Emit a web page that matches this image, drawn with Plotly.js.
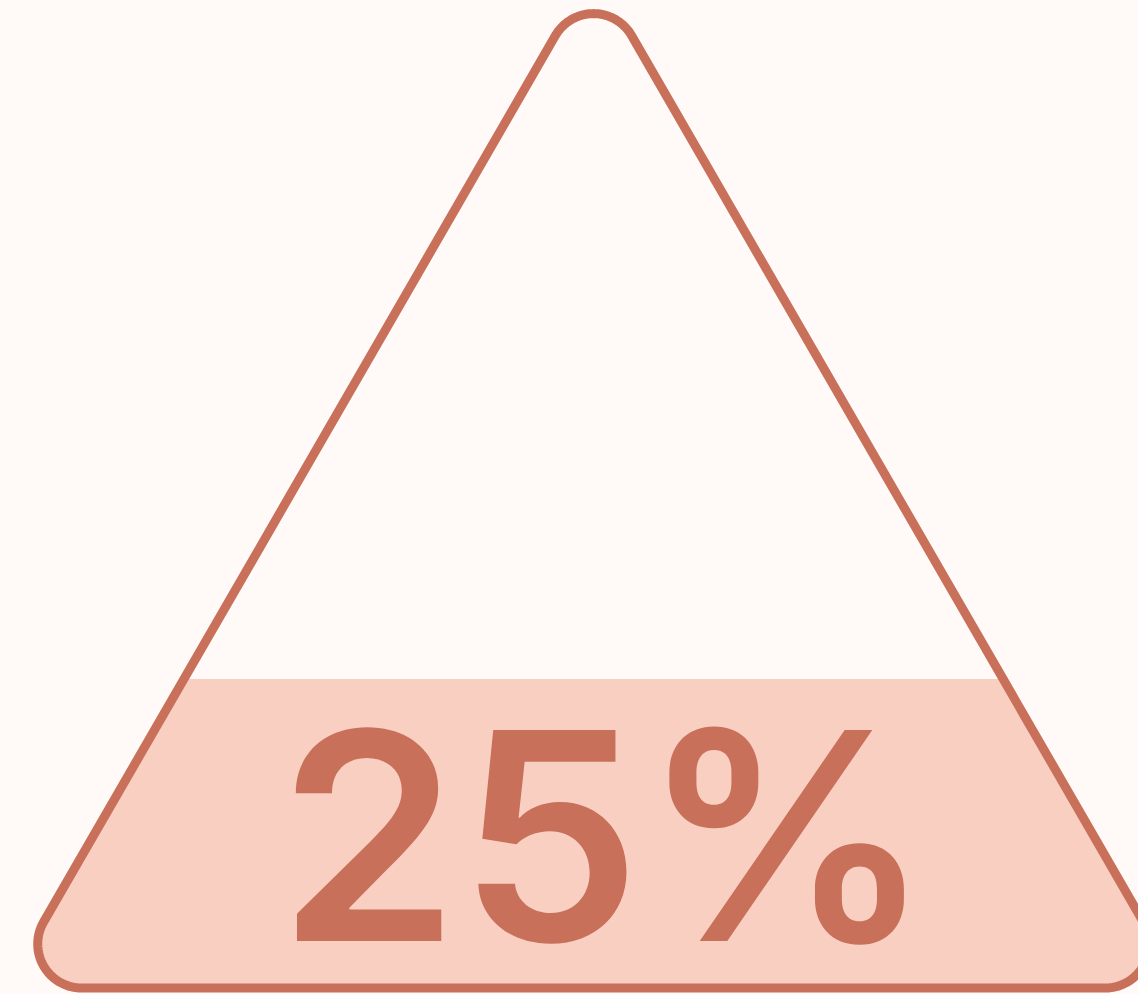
<!DOCTYPE html>
<html>
<head>
<meta charset="utf-8">
<script src="https://cdn.plot.ly/plotly-3.0.1.min.js"></script>
<style>
  html, body { margin: 0; padding: 0; background: #FFFAF8; }
  #chart { width: 1138px; height: 994px; }
  #chart text { font-optical-sizing: none; font-variation-settings: "opsz" 14; }
</style>
</head>
<body>
<div id="chart"></div>
<script>
// ---- data ----
const valueLabels = ["25%"];
const values = [25];
// level of the filled band, in chart units (row from top of chart)
const fillLevel = [679];

// ---- geometry of the rounded triangle (chart units, y grows downwards) ----
const apex = [593.5, -30.4];
const baseY = 988;
const halfSlope = Math.tan(Math.PI / 6);
const baseLeft = [apex[0] - halfSlope * (baseY - apex[1]), baseY];
const baseRight = [apex[0] + halfSlope * (baseY - apex[1]), baseY];
const cornerRadius = 44;

function roundedPolygon(verts, r, steps) {
  const pts = [];
  const n = verts.length;
  for (let i = 0; i < n; i++) {
    const V = verts[i], P = verts[(i - 1 + n) % n], N = verts[(i + 1) % n];
    let u1 = [P[0] - V[0], P[1] - V[1]], u2 = [N[0] - V[0], N[1] - V[1]];
    const l1 = Math.hypot(u1[0], u1[1]), l2 = Math.hypot(u2[0], u2[1]);
    u1 = [u1[0] / l1, u1[1] / l1]; u2 = [u2[0] / l2, u2[1] / l2];
    const ang = Math.acos(u1[0] * u2[0] + u1[1] * u2[1]);
    const th = ang / 2;
    let b = [u1[0] + u2[0], u1[1] + u2[1]];
    const lb = Math.hypot(b[0], b[1]); b = [b[0] / lb, b[1] / lb];
    const dC = r / Math.sin(th);
    const C = [V[0] + b[0] * dC, V[1] + b[1] * dC];
    const t = r / Math.tan(th);
    const T1 = [V[0] + u1[0] * t, V[1] + u1[1] * t];
    const T2 = [V[0] + u2[0] * t, V[1] + u2[1] * t];
    let a1 = Math.atan2(T1[1] - C[1], T1[0] - C[0]);
    let a2 = Math.atan2(T2[1] - C[1], T2[0] - C[0]);
    let d = a2 - a1;
    while (d > Math.PI) d -= 2 * Math.PI;
    while (d < -Math.PI) d += 2 * Math.PI;
    for (let k = 0; k <= steps; k++) {
      const a = a1 + d * k / steps;
      pts.push([C[0] + r * Math.cos(a), C[1] + r * Math.sin(a)]);
    }
  }
  return pts;
}

function clipBelow(pts, level) {
  const out = [];
  const n = pts.length;
  const inside = p => p[1] >= level;
  for (let i = 0; i < n; i++) {
    const A = pts[i], B = pts[(i + 1) % n];
    const ia = inside(A), ib = inside(B);
    if (ia) out.push(A);
    if (ia !== ib) {
      const t = (level - A[1]) / (B[1] - A[1]);
      out.push([A[0] + t * (B[0] - A[0]), level]);
    }
  }
  return out;
}

const outline = roundedPolygon([apex, baseRight, baseLeft], cornerRadius, 60);
const outlineClosed = outline.concat([outline[0], outline[1]]);
const band = clipBelow(outline, fillLevel[0]);
const bandClosed = band.concat([band[0]]);

const strokeColor = '#C8705A';
const fillColor = '#F9CFC2';

const traces = [
  {
    type: 'scatter', mode: 'lines',
    x: bandClosed.map(p => p[0]), y: bandClosed.map(p => p[1]),
    fill: 'toself', fillcolor: fillColor,
    line: { width: 0, color: fillColor, simplify: false },
    hoverinfo: 'skip', showlegend: false
  },
  {
    type: 'scatter', mode: 'lines',
    x: outlineClosed.map(p => p[0]), y: outlineClosed.map(p => p[1]),
    line: { width: 9, color: strokeColor, simplify: false },
    hoverinfo: 'skip', showlegend: false
  }
];

const layout = {
  width: 1138, height: 994,
  margin: { l: 0, r: 0, t: 0, b: 0, pad: 0 },
  paper_bgcolor: '#FFFAF8', plot_bgcolor: '#FFFAF8',
  xaxis: { range: [0, 1138], visible: false, fixedrange: true },
  yaxis: { range: [994, 0], visible: false, fixedrange: true },
  showlegend: false,
  annotations: [{
    x: 605, y: 835, xref: 'x', yref: 'y',
    text: valueLabels[0], showarrow: false,
    xanchor: 'center', yanchor: 'middle',
    font: { family: 'Inter', size: 290, weight: 600, color: strokeColor }
  }]
};

Plotly.newPlot('chart', traces, layout, { displayModeBar: false, staticPlot: true });
</script>
</body>
</html>
